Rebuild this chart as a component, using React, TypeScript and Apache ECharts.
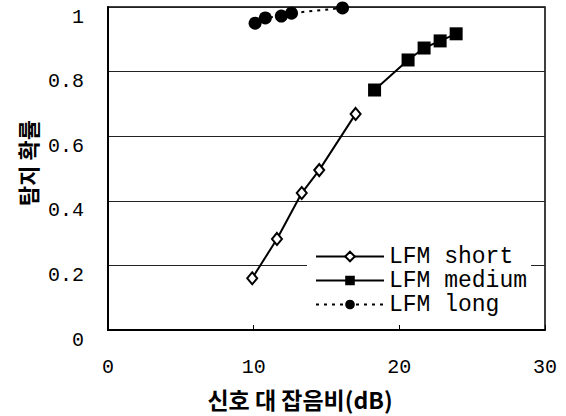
import React, { useEffect, useRef } from "react";
import * as echarts from "echarts";

const xTicks = [0, 10, 20, 30];
const yTicks = [0, 0.2, 0.4, 0.6, 0.8, 1];
const seriesNames = ["LFM short", "LFM medium", "LFM long"];
const shortData: [number, number][] = [
  [9.9, 0.16],
  [11.6, 0.282],
  [13.3, 0.424],
  [14.5, 0.495],
  [17.0, 0.669],
];
const mediumData: [number, number][] = [
  [18.3, 0.743],
  [20.6, 0.836],
  [21.7, 0.873],
  [22.8, 0.895],
  [23.9, 0.917],
];
const longData: [number, number][] = [
  [10.1, 0.95],
  [10.8, 0.966],
  [11.9, 0.972],
  [12.6, 0.981],
  [16.1, 0.997],
];
const xTitle = "신호 대 잡음비(dB)";
const yTitle = "탐지 확률";

export default function App() {
  const ref = useRef<HTMLDivElement>(null);
  useEffect(() => {
    if (!ref.current) return;
    const chart = echarts.init(ref.current, undefined, { renderer: "svg" });
    const mono = "Liberation Mono";
    chart.setOption({
      animation: false,
      backgroundColor: "#fff",
      grid: {
        left: 108,
        right: 21,
        top: 7,
        bottom: 86,
        show: true,
        borderColor: "#000",
        borderWidth: 1.5,
        containLabel: false,
      },
      xAxis: {
        type: "value",
        min: xTicks[0],
        max: xTicks[xTicks.length - 1],
        interval: 10,
        axisLine: { show: true, lineStyle: { color: "#000", width: 2 } },
        axisTick: { show: true, inside: true, length: 5, lineStyle: { color: "#000" } },
        splitLine: { show: false },
        axisLabel: {
          color: "#000",
          fontFamily: mono,
          fontSize: 20,
          margin: 27,
          verticalAlign: "top",
        },
      },
      yAxis: {
        type: "value",
        min: yTicks[0],
        max: yTicks[yTicks.length - 1],
        interval: 0.2,
        axisLine: { show: true, lineStyle: { color: "#000", width: 2 } },
        axisTick: { show: false },
        splitLine: { show: true, lineStyle: { color: "#222", width: 1 } },
        axisLabel: {
          color: "#000",
          fontFamily: mono,
          fontSize: 20,
          margin: 24,
          verticalAlign: "top",
          formatter: (v: number) => (v === 0 || v === 1 ? String(v) : String(Math.round(v * 10) / 10)),
        },
      },
      legend: {
        orient: "vertical",
        left: 307,
        top: 243,
        padding: [2, 4, 6, 8],
        itemGap: 1,
        itemWidth: 68,
        itemHeight: 12,
        backgroundColor: "#fff",
        textStyle: { color: "#000", fontFamily: mono, fontSize: 23 },
        data: seriesNames,
      },
      graphic: [
        {
          type: "text",
          x: 300,
          y: 399,
          style: {
            text: xTitle,
            fontFamily: "Noto Sans CJK KR",
            fontWeight: "bold",
            fontSize: 23,
            fill: "#000",
            textAlign: "center",
            textVerticalAlign: "middle",
          },
        },
        {
          type: "text",
          x: 27,
          y: 163,
          rotation: Math.PI / 2,
          style: {
            text: yTitle,
            fontFamily: "Noto Sans CJK KR",
            fontWeight: "bold",
            fontSize: 22,
            fill: "#000",
            textAlign: "center",
            textVerticalAlign: "middle",
          },
        },
      ],
      series: [
        {
          name: seriesNames[0],
          type: "line",
          data: shortData,
          symbol: "diamond",
          symbolSize: [10, 12],
          lineStyle: { color: "#000", width: 2 },
          itemStyle: { color: "#fff", borderColor: "#000", borderWidth: 2 },
          z: 3,
        },
        {
          name: seriesNames[1],
          type: "line",
          data: mediumData,
          symbol: "rect",
          symbolSize: 13,
          lineStyle: { color: "#000", width: 2 },
          itemStyle: { color: "#000", borderColor: "#000", borderWidth: 0 },
          z: 3,
        },
        {
          name: seriesNames[2],
          type: "line",
          data: longData,
          symbol: "circle",
          symbolSize: 13,
          lineStyle: { color: "#000", width: 2, type: [3, 5] },
          itemStyle: { color: "#000", borderColor: "#000", borderWidth: 0 },
          z: 3,
        },
      ],
    });
    return () => chart.dispose();
  }, []);
  return (
    <div
      ref={ref}
      style={{ position: "fixed", left: 0, top: 0, width: 566, height: 416, background: "#fff" }}
    />
  );
}
